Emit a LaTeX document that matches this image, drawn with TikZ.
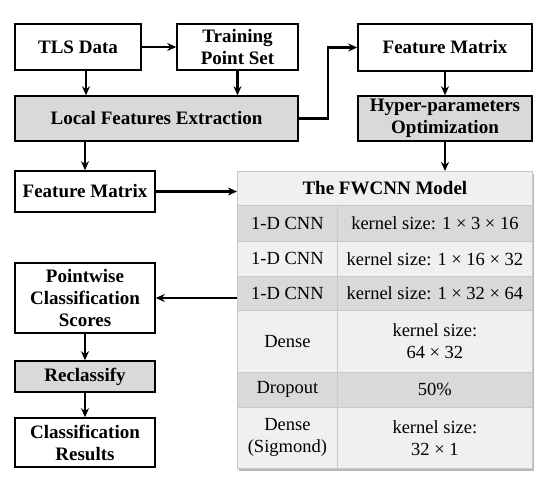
\documentclass[tikz,border=0pt]{standalone}
\usepackage{fontspec}
\setmainfont{Liberation Serif}
\usetikzlibrary{positioning,calc}
\usetikzlibrary{arrows.meta}
\definecolor{BoxGray}{RGB}{217,217,217}
\definecolor{RowLight}{RGB}{240,240,240}
\definecolor{RowDark}{RGB}{217,217,217}
\definecolor{RowLine}{RGB}{200,200,200}
\tikzset{
	box/.style={draw=black,line width=1.6pt,fill=white,align=center,inner sep=0pt,
		font=\fontsize{19}{22}\selectfont\bfseries},
	graybox/.style={box,fill=BoxGray},
	flow/.style={-{Stealth[length=9pt,width=8pt]},line width=2.2pt},
	cell/.style={draw=RowLine,line width=0.8pt,anchor=north west,align=center,inner sep=0pt,
		font=\fontsize{18.5}{22}\selectfont},
}

\begin{document}
\begin{tikzpicture}[x=1pt,y=-1pt]
			\useasboundingbox (0,0) rectangle (550,489);
			\coordinate (lcol) at (86,0);
			\node[box,minimum width=126pt,minimum height=46pt] (tls) at (78,47) {TLS Data};
			\node[box,minimum width=121pt,minimum height=46pt] (train) at (237.5,47) {Training\\Point Set};
			\node[graybox,minimum width=283pt,minimum height=45pt] (lfe) at (156.5,118.5) {Local Features Extraction};
			\node[box,minimum width=174pt,minimum height=47pt] (fmR) at (445,47.5) {Feature Matrix};
			\node[graybox,minimum width=174pt,minimum height=45pt] (hyper) at (445,118.5) {Hyper-parameters\\Optimization};
			\node[box,minimum width=140pt,minimum height=41pt] (fmL) at (85,191.5) {Feature Matrix};
			\node[box,minimum width=140pt,minimum height=70pt] (pcs) at (85,298) {Pointwise\\Classification\\Scores};
			\node[graybox,minimum width=140pt,minimum height=31pt] (recl) at (85,376.5) {Reclassify};
			\node[box,minimum width=140pt,minimum height=49pt] (res) at (85,442.5) {Classification\\Results};
			% the model table
			\fill[black!28] (239,174) rectangle (534,471);
			\node[cell,fill=RowLight,font=\fontsize{19}{22}\selectfont\bfseries,
				minimum width=295pt,minimum height=34pt] (tab) at (237,171) {The FWCNN Model};
			\foreach \n/\ya/\h/\c/\lt/\rt in {
				1/205/36/RowDark/1-D CNN/kernel size: 1 × 3 × 16,
				2/241/35/RowLight/1-D CNN/kernel size: 1 × 16 × 32,
				3/276/34/RowDark/1-D CNN/kernel size: 1 × 32 × 64,
				4/310/62/RowLight/Dense/{kernel size:\\64 × 32},
				5/372/35/RowDark/Dropout/50\%,
				6/407/61/RowLight/{Dense\\(Sigmond)}/{kernel size:\\32 × 1}}
			{
				\node[cell,fill=\c,minimum width=100pt,minimum height=\h pt] (l\n) at (237,\ya) {\lt};
				\node[cell,fill=\c,minimum width=195pt,minimum height=\h pt] (r\n) at (337,\ya) {\rt};
			}
			% connectors
			\draw[flow] (tls) -- (train);
			\draw[flow] (lcol |- tls.south) -- (lcol |- lfe.north);
			\draw[flow] (train.south) -- (train.south |- lfe.north);
			\draw[flow] (lfe.east) -- ++(29,0) |- (fmR.west);
			\draw[flow] (fmR) -- (hyper);
			\draw[flow] (hyper.south) -- (hyper.south |- tab.north);
			\draw[flow] (lfe.south -| fmL) -- (fmL);
			\draw[flow] (fmL) -- (fmL -| tab.west);
			\draw[flow] (pcs -| l3.west) -- (pcs.east);
			\draw[flow] (pcs) -- (recl);
			\draw[flow] (recl) -- (res);
		\end{tikzpicture}
\end{document}
